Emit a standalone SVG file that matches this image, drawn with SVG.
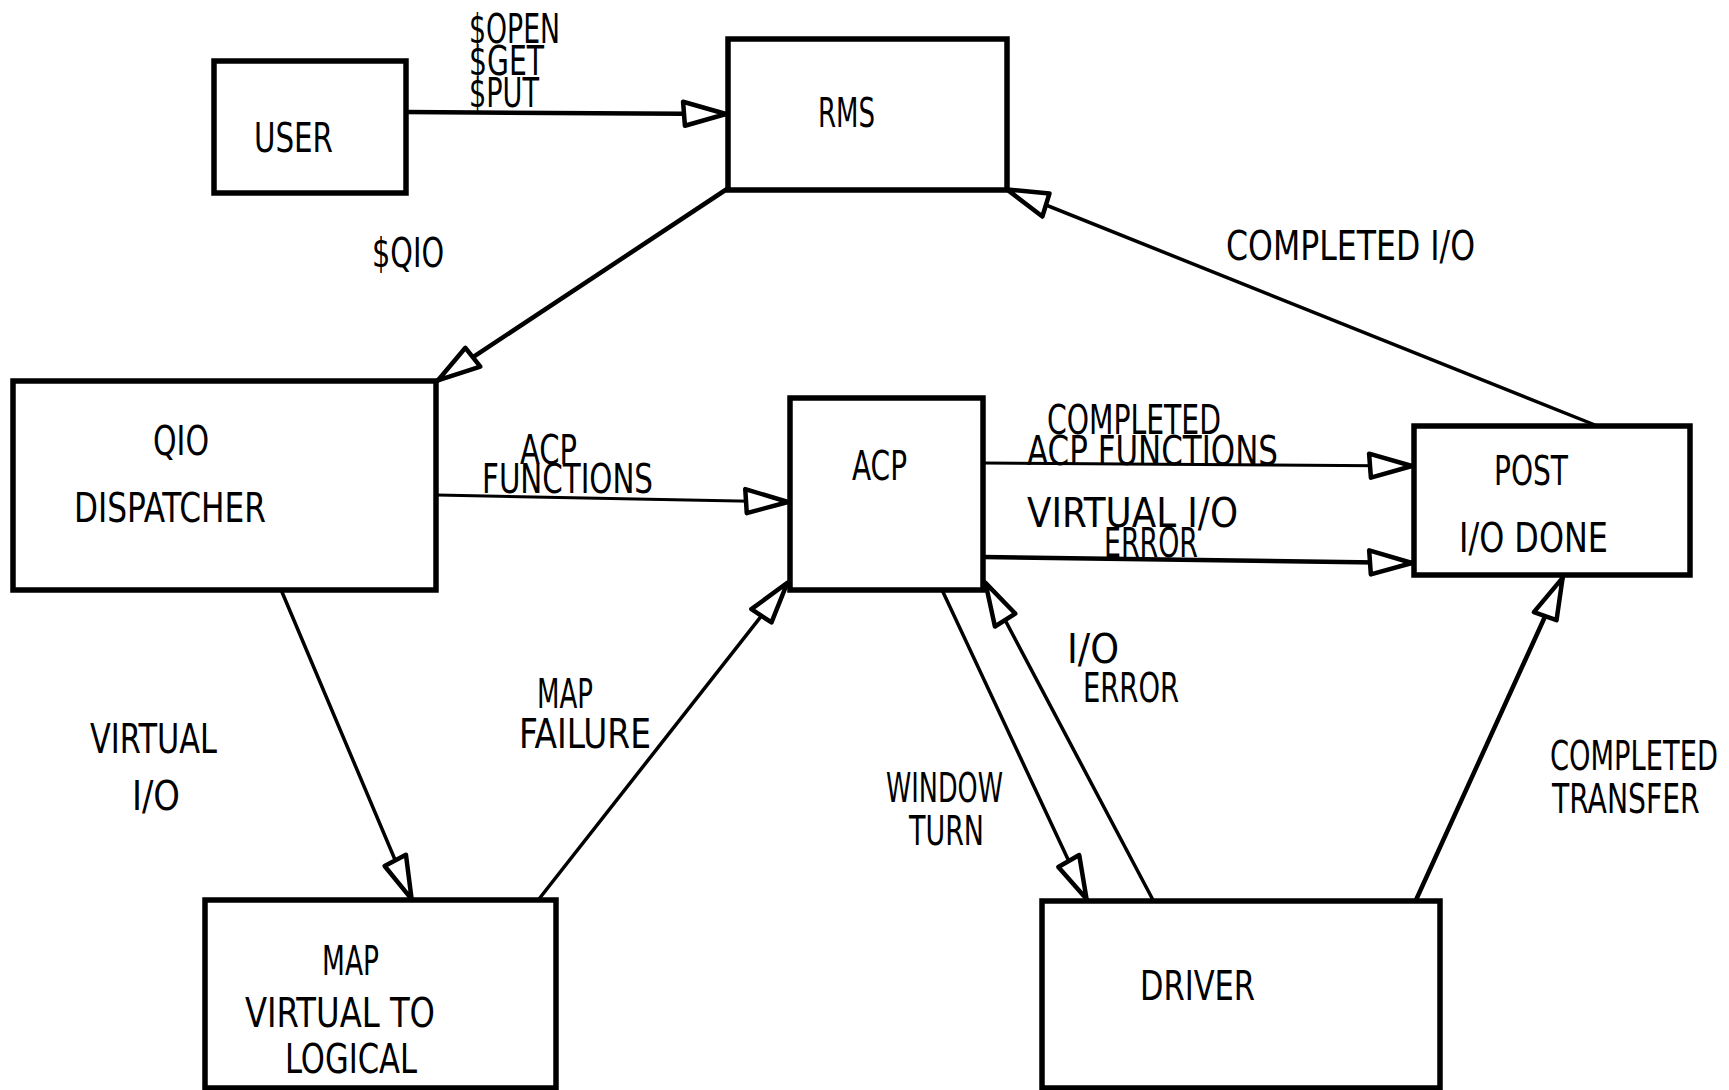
<svg xmlns="http://www.w3.org/2000/svg" width="1729" height="1090" viewBox="0 0 1729 1090">
<style>
.box{fill:#fff;stroke:#000;stroke-width:5.5;stroke-linejoin:miter}
.conn{fill:none;stroke:#000;stroke-width:3.5;stroke-linecap:round;marker-end:url(#ah)}
.thick{stroke-width:4.5}
.thin{stroke-width:3}
text{font-family:'DejaVu Sans Condensed','Liberation Sans Narrow','Liberation Sans',sans-serif;font-size:40px;fill:#000}
</style>
<defs>
<marker id="ah" markerUnits="userSpaceOnUse" viewBox="-52 -20 58 40" refX="0" refY="0" markerWidth="58" markerHeight="40" orient="auto">
<path d="M-1,0 L-44,-12 L-42,12 Z" fill="#fff" stroke="#000" stroke-width="4.5" stroke-linejoin="round"/>
</marker>
</defs>
<rect width="1729" height="1090" fill="#fff"/>
<g id="connectors">
<line class="conn thick" x1="406" y1="112" x2="727" y2="114"/>
<line class="conn thick" x1="727" y1="189" x2="437" y2="381"/>
<line class="conn thin" x1="437" y1="495" x2="789" y2="502"/>
<line class="conn thin" x1="983" y1="463" x2="1413" y2="466"/>
<line class="conn thick" x1="983" y1="557" x2="1413" y2="563"/>
<line class="conn" x1="1595" y1="425" x2="1006" y2="189"/>
<line class="conn" x1="282" y1="592" x2="412" y2="900"/>
<line class="conn" x1="539" y1="899" x2="788" y2="582"/>
<line class="conn" x1="943" y1="592" x2="1087" y2="900"/>
<line class="conn" x1="1153" y1="900" x2="985" y2="582"/>
<line class="conn thick" x1="1416" y1="900" x2="1563" y2="577"/>
</g>
<g id="labels">
<text x="469" y="43" textLength="91" lengthAdjust="spacingAndGlyphs">$OPEN</text>
<text x="469" y="75" textLength="75" lengthAdjust="spacingAndGlyphs">$GET</text>
<text x="469" y="107" textLength="70" lengthAdjust="spacingAndGlyphs">$PUT</text>
<text x="372" y="267" textLength="72" lengthAdjust="spacingAndGlyphs">$QIO</text>
<text x="1226" y="260" textLength="249" lengthAdjust="spacingAndGlyphs">COMPLETED I/O</text>
<text x="520" y="464" textLength="57" lengthAdjust="spacingAndGlyphs">ACP</text>
<text x="482" y="493" textLength="171" lengthAdjust="spacingAndGlyphs">FUNCTIONS</text>
<text x="1047" y="434" textLength="174" lengthAdjust="spacingAndGlyphs">COMPLETED</text>
<text x="1027" y="465" textLength="251" lengthAdjust="spacingAndGlyphs">ACP FUNCTIONS</text>
<text x="1027" y="527" textLength="211" lengthAdjust="spacingAndGlyphs">VIRTUAL I/O</text>
<text x="1104" y="557" textLength="94" lengthAdjust="spacingAndGlyphs">ERROR</text>
<text x="90" y="753" textLength="127" lengthAdjust="spacingAndGlyphs">VIRTUAL</text>
<text x="132" y="810" textLength="48" lengthAdjust="spacingAndGlyphs">I/O</text>
<text x="537" y="708" textLength="56" lengthAdjust="spacingAndGlyphs">MAP</text>
<text x="519" y="748" textLength="132" lengthAdjust="spacingAndGlyphs">FAILURE</text>
<text x="886" y="802" textLength="117" lengthAdjust="spacingAndGlyphs">WINDOW</text>
<text x="909" y="845" textLength="75" lengthAdjust="spacingAndGlyphs">TURN</text>
<text x="1067" y="663" textLength="52" lengthAdjust="spacingAndGlyphs">I/O</text>
<text x="1083" y="702" textLength="96" lengthAdjust="spacingAndGlyphs">ERROR</text>
<text transform="translate(1550,770) scale(0.75,1)" x="0" y="0" textLength="224" lengthAdjust="spacingAndGlyphs">COMPLETED</text>
<text transform="translate(1552,813) scale(0.75,1)" x="0" y="0" textLength="197" lengthAdjust="spacingAndGlyphs">TRANSFER</text>
</g>
<g id="node-user">
<rect class="box" x="214" y="61" width="192" height="132"/>
<text x="254" y="152" textLength="79" lengthAdjust="spacingAndGlyphs">USER</text>
</g>
<g id="node-rms">
<rect class="box" x="728" y="39" width="279" height="151"/>
<text x="818" y="127" textLength="57" lengthAdjust="spacingAndGlyphs">RMS</text>
</g>
<g id="node-qio">
<rect class="box" x="13" y="381" width="423" height="209"/>
<text x="153" y="455" textLength="56" lengthAdjust="spacingAndGlyphs">QIO</text>
<text x="74" y="522" textLength="192" lengthAdjust="spacingAndGlyphs">DISPATCHER</text>
</g>
<g id="node-acp">
<rect class="box" x="790" y="398" width="193" height="192"/>
<text x="852" y="480" textLength="55" lengthAdjust="spacingAndGlyphs">ACP</text>
</g>
<g id="node-post">
<rect class="box" x="1414" y="426" width="276" height="149"/>
<text x="1494" y="485" textLength="74" lengthAdjust="spacingAndGlyphs">POST</text>
<text x="1459" y="552" textLength="149" lengthAdjust="spacingAndGlyphs">I/O DONE</text>
</g>
<g id="node-map">
<rect class="box" x="205" y="900" width="351" height="188"/>
<text x="322" y="975" textLength="57" lengthAdjust="spacingAndGlyphs">MAP</text>
<text x="245" y="1027" textLength="190" lengthAdjust="spacingAndGlyphs">VIRTUAL TO</text>
<text x="285" y="1073" textLength="132" lengthAdjust="spacingAndGlyphs">LOGICAL</text>
</g>
<g id="node-driver">
<rect class="box" x="1042" y="901" width="398" height="187"/>
<text x="1140" y="1000" textLength="115" lengthAdjust="spacingAndGlyphs">DRIVER</text>
</g>
</svg>
